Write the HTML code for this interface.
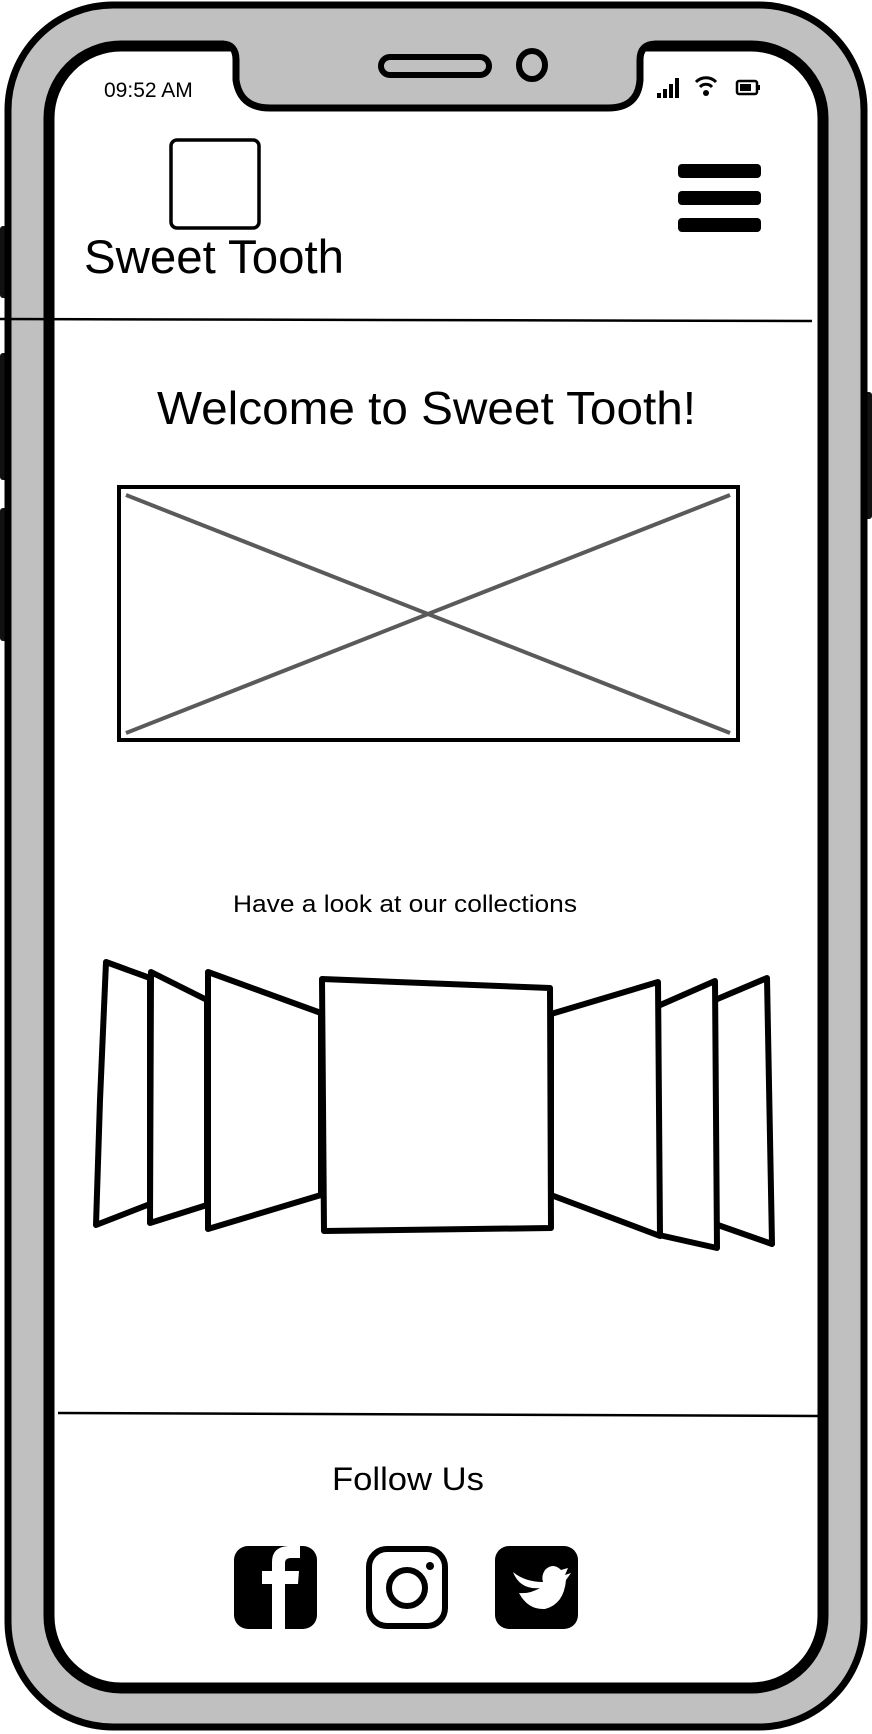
<!DOCTYPE html>
<html><head><meta charset="utf-8"><style>
html,body{margin:0;padding:0;background:#fff;width:872px;height:1734px;overflow:hidden;font-family:"Liberation Sans",sans-serif}
svg{position:absolute;left:0;top:0}
</style></head><body>
<svg width="872" height="1734" viewBox="0 0 872 1734">
<g fill="#111">
<rect x="0" y="226" width="9" height="72" rx="3"/>
<rect x="0" y="353" width="9" height="127" rx="3"/>
<rect x="0" y="508" width="9" height="133" rx="3"/>
<rect x="862" y="392" width="10" height="127" rx="3"/>
</g>
<rect x="8" y="5" width="856" height="1722" rx="105" fill="#c0c0c0" stroke="#000" stroke-width="7"/>
<rect x="49" y="46" width="774" height="1642" rx="72" fill="#fff" stroke="#000" stroke-width="11"/>
<path d="M224 30 L655 30 L655 44 Q638 44 638 60 L638 80 Q636 108 608 108 L270 108 Q242 108 238 80 L238 60 Q238 44 224 44 Z" fill="#c0c0c0"/>
<path d="M222 44 Q236 44 236 60 L236 80 Q240 108 270 108 L608 108 Q638 108 640 80 L640 60 Q640 44 656 44" fill="none" stroke="#000" stroke-width="7"/>
<rect x="381" y="57" width="108" height="18" rx="9" fill="none" stroke="#000" stroke-width="6"/>
<ellipse cx="532" cy="65" rx="13" ry="14" fill="none" stroke="#000" stroke-width="6"/>
<text x="104" y="97" font-size="21" fill="#000">09:52 AM</text>
<g fill="#000">
<rect x="657" y="93" width="4" height="5"/><rect x="663" y="89" width="4" height="9"/><rect x="669" y="84" width="4" height="14"/><rect x="675" y="78" width="4" height="20"/>
<path d="M696 82 a14 14 0 0 1 20 0" fill="none" stroke="#000" stroke-width="3"/>
<path d="M700 87 a8 8 0 0 1 12 0" fill="none" stroke="#000" stroke-width="3"/>
<circle cx="706" cy="93" r="3"/>
<rect x="737" y="81" width="20" height="13" rx="2" fill="none" stroke="#000" stroke-width="2.5"/>
<rect x="740" y="84" width="11" height="7"/><rect x="758" y="85" width="2" height="5"/>
</g>
<rect x="171" y="140" width="88" height="88" rx="6" fill="#fff" stroke="#000" stroke-width="3.5"/>
<text x="84" y="273" font-size="47" fill="#000" textLength="260" lengthAdjust="spacingAndGlyphs">Sweet Tooth</text>
<g fill="#000">
<rect x="678" y="164" width="83" height="14" rx="4"/>
<rect x="678" y="191" width="83" height="14" rx="4"/>
<rect x="678" y="218" width="83" height="14" rx="4"/>
</g>
<path d="M0 319 L812 321" stroke="#000" stroke-width="2.5"/>
<text x="157" y="424" font-size="46" fill="#000" textLength="539" lengthAdjust="spacingAndGlyphs">Welcome to Sweet Tooth!</text>
<g>
<rect x="119" y="487" width="619" height="253" fill="#fff" stroke="#000" stroke-width="4"/>
<path d="M126 495 L730 733 M126 733 L730 495" stroke="#5a5a5a" stroke-width="4"/>
</g>
<text x="233" y="912" font-size="24" fill="#000" textLength="344" lengthAdjust="spacingAndGlyphs">Have a look at our collections</text>
<g fill="#fff" stroke="#000" stroke-width="6" stroke-linejoin="round">
<polygon points="106,962 150,978 150,1204 96,1225 100,1100"/>
<polygon points="151,972 207,1000 207,1205 150,1223"/>
<polygon points="208,972 321,1013 321,1195 208,1229"/>
<polygon points="767,978 715,1000 715,1224 772,1244"/>
<polygon points="715,981 658,1006 659,1235 717,1248"/>
<polygon points="658,982 551,1014 551,1195 660,1236"/>
<polygon points="322,979 550,988 551,1228 324,1231"/>
</g>
<path d="M58 1413 L818 1416" stroke="#000" stroke-width="2.5"/>
<text x="332" y="1490" font-size="32" fill="#000" textLength="152" lengthAdjust="spacingAndGlyphs">Follow Us</text>
<g>
<rect x="234" y="1546" width="83" height="83" rx="14" fill="#000"/>
<path d="M285 1629 L285 1584 L298 1584 L299 1571 L285 1571 L285 1563 Q285 1558 291 1558 L300 1558 L300 1546 L288 1546 Q272 1547 272 1562 L272 1571 L262 1571 L262 1584 L272 1584 L272 1629 Z" fill="#fff"/>
</g>
<g fill="none" stroke="#000">
<rect x="369" y="1549" width="76" height="77" rx="18" stroke-width="6"/>
<circle cx="407" cy="1588" r="18" stroke-width="6"/>
<circle cx="430" cy="1566" r="4" fill="#000" stroke="none"/>
</g>
<g>
<rect x="495" y="1546" width="83" height="83" rx="14" fill="#000"/>
<path d="M513 1572 Q520 1590 540 1588 Q530 1594 519 1593 Q528 1610 545 1609 Q564 1604 566 1580 L571 1573 L565 1575 L568 1568 L561 1570 Q553 1562 545 1570 Q541 1576 543 1582 Q525 1582 513 1572 Z" fill="#fff"/>
</g>
</svg>
</body></html>
